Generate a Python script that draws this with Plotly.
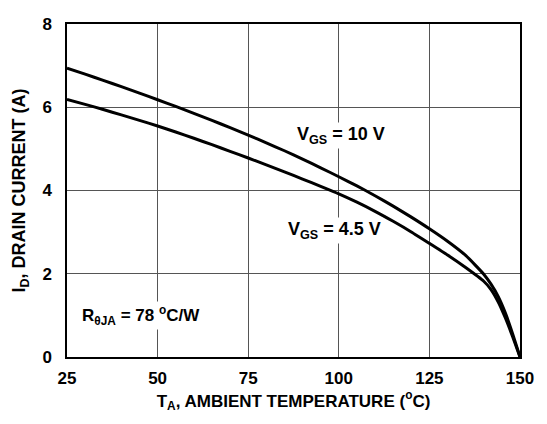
import plotly.graph_objects as go

temp = [25, 30, 35, 40, 45, 50, 55, 60, 65, 70, 75, 80, 85, 90, 95, 100, 105, 110,
        115, 120, 125, 130, 135, 140, 142, 144, 146, 148, 150]
id_10v = [6.94, 6.795, 6.647, 6.495, 6.34, 6.18, 6.02, 5.855, 5.685, 5.51, 5.33, 5.145,
          4.955, 4.755, 4.545, 4.33, 4.11, 3.875, 3.625, 3.36, 3.08, 2.78, 2.44, 1.99,
          1.75, 1.45, 1.05, 0.55, 0.0]
id_45v = [6.19, 6.07, 5.945, 5.817, 5.685, 5.55, 5.405, 5.255, 5.10, 4.942, 4.78, 4.615,
          4.447, 4.275, 4.10, 3.92, 3.72, 3.50, 3.26, 3.005, 2.73, 2.45, 2.15, 1.82,
          1.62, 1.32, 0.93, 0.48, 0.0]

x_ticks = [25, 50, 75, 100, 125, 150]
y_ticks = [0, 2, 4, 6, 8]

FONT = "Liberation Sans, Arial, sans-serif"

fig = go.Figure()
for ys in (id_10v, id_45v):
    fig.add_trace(go.Scatter(x=temp, y=ys, mode="lines",
                             line=dict(color="black", width=3, shape="spline", smoothing=0.5),
                             showlegend=False, hoverinfo="skip"))

annos = [
    dict(x=100.5, y=5.32, text="V<sub>GS</sub> = 10 V", size=18),
    dict(x=98.8, y=3.04, text="V<sub>GS</sub> = 4.5 V", size=18),
    dict(x=45.4, y=1.0, text="R<sub>θJA</sub> = 78 <sup>o</sup>C/W", size=17),
]
for a in annos:
    fig.add_annotation(x=a["x"], y=a["y"], text=a["text"], showarrow=False,
                       bgcolor="white", borderpad=1,
                       font=dict(family=FONT, size=a["size"], color="black", weight="bold"))

fig.update_layout(
    width=547, height=424,
    margin=dict(l=67, r=27, t=24, b=67),
    paper_bgcolor="white", plot_bgcolor="white",
    font=dict(family=FONT, color="black"),
    xaxis=dict(range=[25, 150], tickvals=x_ticks, ticktext=[str(v) for v in x_ticks],
               automargin=False,
               showgrid=True, gridcolor="#555555", gridwidth=1,
               showline=True, linecolor="black", linewidth=2, mirror=True,
               zeroline=False, ticks="", ticklabelstandoff=5,
               tickfont=dict(family=FONT, size=17, weight="bold"),
               title=dict(text="T<sub>A</sub>, AMBIENT TEMPERATURE (<sup>o</sup>C)",
                          font=dict(family=FONT, size=17, weight="bold"), standoff=3)),
    yaxis=dict(range=[0, 8], tickvals=y_ticks, ticktext=[str(v) for v in y_ticks],
               automargin=False,
               showgrid=True, gridcolor="#555555", gridwidth=1,
               showline=True, linecolor="black", linewidth=1.5, mirror=True,
               zeroline=False, ticks="", ticklabelstandoff=10,
               tickfont=dict(family=FONT, size=17, weight="bold"),
               title=dict(text="I<sub>D</sub>, DRAIN CURRENT (A)",
                          font=dict(family=FONT, size=18, weight="bold"), standoff=12)),
)

fig.write_html("out.html", config={"displayModeBar": False},
               post_script="document.body.style.margin='0px';")
